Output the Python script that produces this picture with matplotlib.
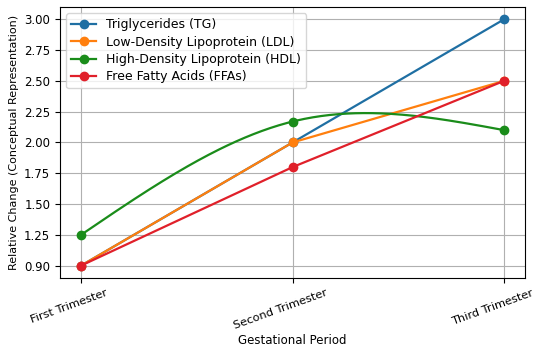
import numpy as np
import matplotlib
matplotlib.use("Agg")
import matplotlib.pyplot as plt
from matplotlib.transforms import ScaledTranslation

periods = ["First Trimester", "Second Trimester", "Third Trimester"]
tg = [0.90, 2.00, 3.00]
ldl = [0.90, 2.00, 2.50]
hdl = [1.25, 2.17, 2.10]
ffa = [0.90, 1.80, 2.50]
ytick_vals = [0.90, 1.25, 1.50, 1.75, 2.00, 2.25, 2.50, 2.75, 3.00]

labels = ["Triglycerides (TG)", "Low-Density Lipoprotein (LDL)",
          "High-Density Lipoprotein (HDL)", "Free Fatty Acids (FFAs)"]
colors = ["#1f6fa3", "#ff7f0e", "#1a8c1a", "#e0202a"]


def natural_spline(x, y, n=200):
    x = np.asarray(x, float); y = np.asarray(y, float)
    k = len(x); h = np.diff(x)
    A = np.zeros((k, k)); r = np.zeros(k)
    A[0, 0] = A[-1, -1] = 1
    for i in range(1, k - 1):
        A[i, i - 1] = h[i - 1]; A[i, i] = 2 * (h[i - 1] + h[i]); A[i, i + 1] = h[i]
        r[i] = 6 * ((y[i + 1] - y[i]) / h[i] - (y[i] - y[i - 1]) / h[i - 1])
    M = np.linalg.solve(A, r)
    xs = np.linspace(x[0], x[-1], n)
    idx = np.clip(np.searchsorted(x, xs) - 1, 0, k - 2)
    x0, x1 = x[idx], x[idx + 1]; hh = x1 - x0
    ys = (M[idx] * (x1 - xs) ** 3 / (6 * hh) + M[idx + 1] * (xs - x0) ** 3 / (6 * hh)
          + (y[idx] / hh - M[idx] * hh / 6) * (x1 - xs)
          + (y[idx + 1] / hh - M[idx + 1] * hh / 6) * (xs - x0))
    return xs, ys


BREAK = 1.25
FACT = 0.25 / 0.35


def fwd(y):
    y = np.asarray(y, float)
    return np.where(y < BREAK, BREAK - (BREAK - y) * FACT, y)


def inv(y):
    y = np.asarray(y, float)
    return np.where(y < BREAK, BREAK - (BREAK - y) / FACT, y)


plt.rcParams["font.family"] = "DejaVu Sans"
fig = plt.figure(figsize=(5.5, 3.5), dpi=100)
ax = fig.add_axes([0.109, 0.206, 0.846, 0.774])
ax.set_yscale("function", functions=(fwd, inv))

x = np.arange(len(periods))
series = [tg, ldl, hdl, ffa]
for s, lab, c in zip(series, labels, colors):
    if s is hdl:
        xs, ys = natural_spline(x, s)
        ax.plot(xs, ys, color=c, lw=1.6)
        ax.plot(x, s, "o", color=c, ms=6)
        ax.plot([], [], "-o", color=c, lw=1.6, ms=6, label=lab)
    else:
        ax.plot(x, s, "-o", color=c, lw=1.6, ms=6, label=lab)

ax.set_xticks(x)
ax.set_xticklabels(periods, rotation=20, ha="center", fontsize=8.2)
shift = ScaledTranslation(-12 / 100, 0, fig.dpi_scale_trans)
for t in ax.get_xticklabels():
    t.set_transform(t.get_transform() + shift)
ax.set_yticks(ytick_vals)
ax.set_yticklabels([f"{v:.2f}" for v in ytick_vals], fontsize=8.5)
ax.yaxis.set_minor_locator(matplotlib.ticker.NullLocator())
ax.grid(True, color="#b0b0b0", lw=0.8)
ax.set_xlabel("Gestational Period", fontsize=8.5, labelpad=2)
ax.set_ylabel("Relative Change (Conceptual Representation)", fontsize=8)
ax.legend(loc="upper left", fontsize=9, labelspacing=0.35)

fig.savefig("out.png", dpi=100)
